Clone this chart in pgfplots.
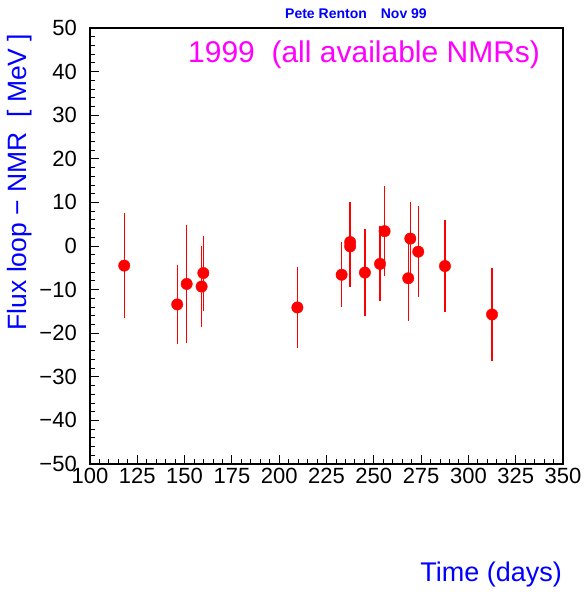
\documentclass[border=0pt]{standalone}
\usepackage{pgfplots}
\pgfplotsset{compat=1.18}
\usepackage{fontspec}
\setmainfont{Liberation Sans}

\definecolor{pawblue}{RGB}{0,0,255}
\definecolor{pawmag}{RGB}{255,0,255}
\definecolor{pawred}{RGB}{255,0,0}

\begin{document}
\begin{tikzpicture}
\path[use as bounding box] (0pt,0pt) rectangle (584pt,592pt);
\begin{axis}[
    at={(90pt,128pt)}, anchor=south west,
    scale only axis,
    width=473pt, height=436pt,
    xmin=100, xmax=350,
    ymin=-50, ymax=50,
    xtick={100,125,...,350},
    ytick={-50,-40,...,50},
    yticklabels={−50,−40,−30,−20,−10,0,10,20,30,40,50},
    minor x tick num=4,
    minor y tick num=4,
    tick align=inside,
    xtick pos=bottom,
    ytick pos=left,
    major tick length=9pt,
    minor tick length=4.5pt,
    tick style={black, line width=0.9pt},
    axis line style={black, line width=1.1pt},
    /pgf/number format/assume math mode=true,
    ticklabel style={font=\fontsize{22}{22}\selectfont},
    xticklabel style={inner sep=0pt, yshift=-4pt},
    yticklabel style={inner sep=0pt, xshift=-13pt},
]
\addplot[only marks, mark=*, mark size=5.7pt, color=pawred,
    error bars/.cd, y dir=both, y explicit,
    error mark=none,
    error bar style={pawred, line width=1.4pt}]
  table[x=x, y=y, y error=e] {
x y e
118.1 -4.5 12.0
146.1 -13.4 9.1
151.1 -8.7 13.5
159.0 -9.3 9.2
159.9 -6.2 8.6
209.6 -14.1 9.3
233.0 -6.6 7.5
237.5 0.9 9.2
237.5 -0.1 9.3
245.3 -6.1 10.0
253.3 -4.1 8.6
255.7 3.4 10.3
268.2 -7.4 9.9
269.3 1.7 8.3
273.5 -1.3 10.5
287.6 -4.6 10.5
312.5 -15.7 10.6
};
\end{axis}
\node[anchor=center, text=pawblue, font=\bfseries\fontsize{14}{14}\selectfont] at (356pt,578pt) {Pete Renton\quad Nov 99};
\node[anchor=base west, inner sep=0pt, text=pawmag, font=\fontsize{30}{30}\selectfont] at (188pt,529pt) {1999\ \ (all available NMRs)};
\node[anchor=base, rotate=90, inner sep=0pt, text=pawblue, font=\fontsize{26.5}{26.5}\selectfont] at (27pt,410pt) {Flux loop − NMR\ \ [ MeV ]};
\node[anchor=base east, inner sep=0pt, text=pawblue, font=\fontsize{27}{27}\selectfont] at (562pt,10pt) {Time (days)};
\end{tikzpicture}
\end{document}
